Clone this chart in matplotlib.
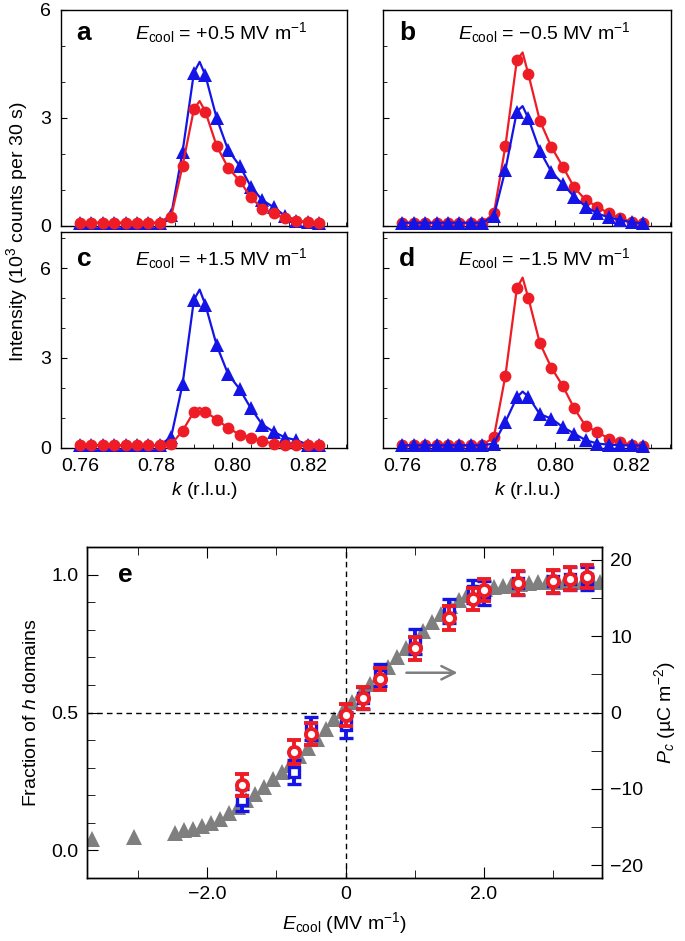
import matplotlib
matplotlib.use("Agg")
import matplotlib.pyplot as plt
import numpy as np
from matplotlib.ticker import MultipleLocator, FixedLocator, FixedFormatter

plt.rcParams["font.family"] = ["Liberation Sans", "DejaVu Sans"]
plt.rcParams["mathtext.fontset"] = "custom"
plt.rcParams["mathtext.rm"] = "Liberation Sans"
plt.rcParams["mathtext.it"] = "Liberation Sans:italic"
plt.rcParams["mathtext.bf"] = "Liberation Sans:bold"
plt.rcParams["axes.linewidth"] = 1.0

RED = "#ee1c24"
BLUE = "#1414e6"
GRAY = "#7f7f7f"

# k scans (r.l.u.)
k = [0.760, 0.763, 0.766, 0.769, 0.772, 0.775, 0.778, 0.781, 0.784, 0.787, 0.790,
     0.793, 0.796, 0.799, 0.802, 0.805, 0.808, 0.811, 0.814, 0.817, 0.820, 0.823]
k_peak = 0.7915

a_red = [0.09, 0.09, 0.09, 0.09, 0.09, 0.09, 0.09, 0.09, 0.26, 1.67, 3.25,
         3.18, 2.22, 1.62, 1.26, 0.80, 0.48, 0.35, 0.21, 0.15, 0.10, 0.08]
a_blue = [0.09, 0.09, 0.09, 0.09, 0.09, 0.09, 0.09, 0.09, 0.30, 2.06, 4.26,
          4.19, 2.99, 2.11, 1.68, 1.09, 0.72, 0.52, 0.28, 0.15, 0.10, 0.08]
b_red = [0.09, 0.09, 0.09, 0.09, 0.09, 0.09, 0.09, 0.09, 0.35, 2.22, 4.61,
         4.22, 2.93, 2.20, 1.65, 1.07, 0.72, 0.54, 0.35, 0.21, 0.12, 0.09]
b_blue = [0.09, 0.09, 0.09, 0.09, 0.09, 0.09, 0.09, 0.09, 0.28, 1.56, 3.18,
          2.99, 2.09, 1.51, 1.17, 0.81, 0.54, 0.35, 0.24, 0.17, 0.10, 0.08]
c_red = [0.09, 0.09, 0.09, 0.09, 0.09, 0.09, 0.09, 0.09, 0.12, 0.57, 1.21,
         1.21, 0.95, 0.67, 0.45, 0.35, 0.22, 0.15, 0.09, 0.09, 0.09, 0.09]
c_blue = [0.09, 0.09, 0.09, 0.09, 0.09, 0.09, 0.09, 0.09, 0.37, 2.12, 4.94,
          4.78, 3.42, 2.46, 1.97, 1.32, 0.78, 0.54, 0.35, 0.26, 0.11, 0.09]
d_red = [0.09, 0.09, 0.09, 0.09, 0.09, 0.09, 0.09, 0.09, 0.37, 2.41, 5.32,
         5.00, 3.50, 2.68, 2.07, 1.32, 0.73, 0.54, 0.31, 0.20, 0.11, 0.07]
d_blue = [0.09, 0.09, 0.09, 0.09, 0.09, 0.09, 0.09, 0.09, 0.15, 0.87, 1.69,
          1.71, 1.13, 0.98, 0.70, 0.48, 0.26, 0.15, 0.11, 0.09, 0.09, 0.08]
# fitted peak height of the solid curves at k_peak
peak_red = [3.47, 4.82, 1.34, 5.68]
peak_blue = [4.56, 3.33, 5.28, 1.88]
panel_fields = ["+0.5", "\u22120.5", "+1.5", "\u22121.5"]
panel_letters = ["a", "b", "c", "d"]

# panel e
E_pts = [-1.5, -0.75, -0.5, 0.0, 0.25, 0.5, 1.0, 1.5, 1.85, 2.0, 2.5, 3.0, 3.25, 3.5]
frac_red = [0.236, 0.357, 0.422, 0.491, 0.554, 0.622, 0.733, 0.843, 0.913, 0.945,
            0.970, 0.976, 0.985, 0.992]
err_red = [0.040, 0.042, 0.040, 0.040, 0.040, 0.040, 0.042, 0.043, 0.040, 0.040,
           0.044, 0.042, 0.042, 0.042]
frac_blue = [0.182, 0.285, 0.443, 0.455, 0.554, 0.636, 0.757, 0.869, 0.939, 0.933,
             0.970, 0.976, 0.985, 0.985]
err_blue = [0.040, 0.043, 0.041, 0.047, 0.040, 0.040, 0.045, 0.043, 0.042, 0.042,
            0.044, 0.042, 0.042, 0.042]
E_gray = [-3.67, -3.06, -2.46, -2.33, -2.20, -2.08, -1.95, -1.82, -1.69, -1.56, -1.44,
          -1.31, -1.18, -1.05, -0.92, -0.80, -0.67, -0.54, -0.41, -0.28, -0.16, -0.03,
          0.10, 0.23, 0.36, 0.48, 0.61, 0.74, 0.87, 1.00, 1.12, 1.25, 1.38, 1.51, 1.64,
          1.76, 1.89, 2.02, 2.15, 2.28, 2.40, 2.53, 2.66, 2.79, 2.92, 3.04, 3.17, 3.30,
          3.43, 3.56, 3.68]
P_gray = [-16.5, -16.3, -15.7, -15.4, -15.2, -14.9, -14.5, -13.9, -13.2, -12.4, -11.5,
          -10.6, -9.7, -8.7, -7.8, -6.8, -5.7, -4.6, -3.4, -2.2, -0.9, 0.2,
          1.4, 2.6, 3.7, 4.9, 6.0, 7.2, 8.4, 9.6, 10.6, 11.8, 12.9, 13.9, 14.7,
          15.3, 15.8, 16.2, 16.4, 16.6, 16.7, 16.8, 16.9, 17.0, 17.0, 17.0, 17.0, 17.0,
          17.0, 17.0, 17.0]
P_scale = 36.07  # uC m^-2 per unit fraction

W, H = 685, 941
fig = plt.figure(figsize=(W / 100, H / 100), dpi=100)


def box(l, t, r, b):
    return [l / W, 1 - b / H, (r - l) / W, (b - t) / H]


axes = [fig.add_axes(box(61, 10, 347, 226)), fig.add_axes(box(383, 10, 671, 226)),
        fig.add_axes(box(61, 232, 347, 448)), fig.add_axes(box(383, 232, 671, 448))]
reds = [a_red, b_red, c_red, d_red]
blues = [a_blue, b_blue, c_blue, d_blue]

for i, ax in enumerate(axes):
    red, blue = reds[i], blues[i]
    red_top = i in (0, 2)
    zr, zb = (4, 3) if red_top else (3, 4)
    kf = np.insert(k, 11, k_peak)
    ax.plot(kf, np.insert(red, 11, peak_red[i]), color=RED, lw=1.6, zorder=zr)
    ax.plot(kf, np.insert(blue, 11, peak_blue[i]), color=BLUE, lw=1.6, zorder=zb)
    ax.plot(k, red, "o", color=RED, ms=8.5, mew=0, zorder=zr, clip_on=False)
    ax.plot(k, blue, "^", color=BLUE, ms=9.5, mew=0, zorder=zb, clip_on=False)
    ax.set_xlim(0.755, 0.8303)
    ax.set_ylim(0, 6 if i < 2 else 7.2)
    ax.xaxis.set_major_locator(FixedLocator([0.76, 0.78, 0.80, 0.82]))
    ax.xaxis.set_minor_locator(MultipleLocator(0.005))
    ax.yaxis.set_major_locator(FixedLocator([0, 3, 6]))
    ax.yaxis.set_minor_locator(MultipleLocator(1))
    ax.tick_params(which="both", direction="in", labelsize=14, top=False, right=False)
    ax.tick_params(which="major", length=4.5, pad=7)
    ax.tick_params(which="minor", length=3)
    ax.xaxis.set_major_formatter(FixedFormatter(["0.76", "0.78", "0.80", "0.82"]))
    if i < 2:
        ax.tick_params(labelbottom=False)
    else:
        ax.set_xlabel("$k$ (r.l.u.)", fontsize=14, labelpad=4)
    if i % 2 == 1:
        ax.tick_params(labelleft=False)
    ty = 0.895 if i < 2 else 0.875
    ax.text(0.055, ty, panel_letters[i], transform=ax.transAxes, fontsize=19,
            fontweight="bold", ha="left", va="center")
    ax.text(0.56, ty, "$E_{\\mathrm{cool}}$ = " + panel_fields[i] + " MV m$^{\u22121}$",
            transform=ax.transAxes, fontsize=14, ha="center", va="center")

fig.text(17 / W, 1 - 232 / H, "Intensity (10$^3$ counts per 30 s)", rotation=90,
         fontsize=14, ha="center", va="center")

# panel e
ax = fig.add_axes(box(87, 547, 602, 878))
axp = ax.twinx()
ax.set_zorder(axp.get_zorder() + 1)
ax.patch.set_visible(False)

axp.plot(E_gray, P_gray, "^", color=GRAY, ms=11.5, mew=0)
axp.annotate("", xy=(1.66, 5.2), xytext=(0.84, 5.2),
             arrowprops=dict(arrowstyle="->", color=GRAY, lw=1.8, mutation_scale=24))

ax.axhline(0.5, color="k", lw=1.0, dashes=(4, 3), zorder=1)
ax.axvline(0.0, color="k", lw=1.0, dashes=(4, 3), zorder=1)
ax.errorbar(E_pts, frac_blue, yerr=err_blue, fmt="s", color=BLUE, mfc="white", mec=BLUE,
            ms=7, mew=2.4, elinewidth=2.8, capsize=5, capthick=2.8, zorder=3)
ax.errorbar(E_pts, frac_red, yerr=err_red, fmt="o", color=RED, mfc="white", mec=RED,
            ms=8, mew=2.8, elinewidth=2.8, capsize=5, capthick=2.8, zorder=4)

ax.set_xlim(-3.74, 3.71)
ax.set_ylim(-0.10, 1.10)
axp.set_ylim(-0.6 * P_scale, 0.6 * P_scale)

ax.xaxis.set_major_locator(FixedLocator([-2, 0, 2]))
ax.xaxis.set_major_formatter(FixedFormatter(["\u22122.0", "0", "2.0"]))
ax.xaxis.set_minor_locator(FixedLocator([-3, -1, 1, 3]))
ax.yaxis.set_major_locator(FixedLocator([0, 0.5, 1.0]))
ax.yaxis.set_major_formatter(FixedFormatter(["0.0", "0.5", "1.0"]))
ax.yaxis.set_minor_locator(MultipleLocator(0.1))
ax.tick_params(which="both", direction="in", labelsize=14, top=True, right=False)
ax.tick_params(which="major", length=8, pad=6)
ax.tick_params(which="minor", length=6)
ax.tick_params(axis="y", which="minor", length=5.5)

axp.yaxis.set_major_locator(FixedLocator([-20, -10, 0, 10, 20]))
axp.yaxis.set_major_formatter(FixedFormatter(["\u221220", "\u221210", "0", "10", "20"]))
axp.yaxis.set_minor_locator(MultipleLocator(5))
axp.tick_params(which="both", direction="in", labelsize=14, length=8, pad=6)

ax.set_xlabel("$E_{\\mathrm{cool}}$ (MV m$^{\u22121}$)", fontsize=14, labelpad=5)
ax.set_ylabel("Fraction of $h$ domains", fontsize=14, labelpad=8)
axp.set_ylabel("$P_c$ (\u00b5C m$^{\u22122}$)", fontsize=14, labelpad=6)
ax.text(0.06, 0.915, "e", transform=ax.transAxes, fontsize=19, fontweight="bold",
        ha="left", va="center")

fig.savefig("out.png", dpi=100)
